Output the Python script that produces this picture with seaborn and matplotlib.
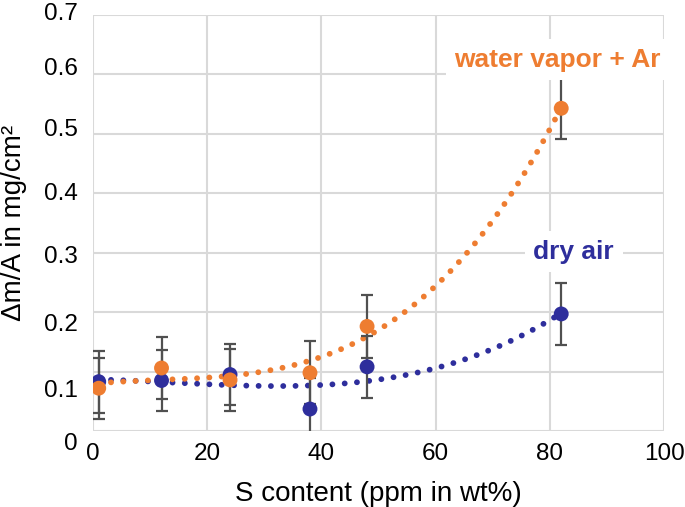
import numpy as np
import pandas as pd
import seaborn as sns
import matplotlib
matplotlib.use("Agg")
import matplotlib.pyplot as plt
from matplotlib.transforms import ScaledTranslation

# ---- data ----
s_content = [1, 12, 24, 38, 48, 82]
dry_air = [0.083, 0.085, 0.095, 0.037, 0.108, 0.197]
dry_air_err = [0.052, 0.052, 0.052, 0.052, 0.052, 0.052]
water_vapor = [0.072, 0.106, 0.086, 0.098, 0.176, 0.543]
water_vapor_err = [0.051, 0.052, 0.052, 0.053, 0.053, 0.051]
x_ticks = [0, 20, 40, 60, 80, 100]
y_ticks = [0, 0.1, 0.2, 0.3, 0.4, 0.5, 0.6, 0.7]
y_tick_labels = ["0", "0.1", "0.2", "0.3", "0.4", "0.5", "0.6", "0.7"]
series_names = ["dry air", "water vapor + Ar"]

BLUE = "#2E2E9C"
ORANGE = "#EE7D31"
GREY = "#D9D9D9"
ERR = "#505050"

sns.set_theme(style="white")
plt.rcParams["font.family"] = ["Liberation Sans", "DejaVu Sans"]

fig = plt.figure(figsize=(6.85, 5.07), dpi=100)
ax = fig.add_axes([93 / 685, 76 / 507, (664 - 93) / 685, (431 - 15) / 507])

df = pd.DataFrame({
    "S": s_content * 2,
    "val": dry_air + water_vapor,
    "err": dry_air_err + water_vapor_err,
    "series": [series_names[0]] * 6 + [series_names[1]] * 6,
})
palette = {series_names[0]: BLUE, series_names[1]: ORANGE}

# polynomial trend lines (like a spreadsheet trendline), fit from the data
trend_frames = []
for name in series_names:
    sub = df[df.series == name]
    coef = np.polyfit(sub.S, sub.val, 3)
    xs = np.linspace(min(s_content), max(s_content), 200)
    trend_frames.append(pd.DataFrame({"S": xs, "val": np.polyval(coef, xs), "series": name}))
trend = pd.concat(trend_frames)

sns.lineplot(data=trend, x="S", y="val", hue="series", palette=palette, ax=ax,
             legend=False, linewidth=4.2, zorder=3)
for ln in ax.get_lines():
    ln.set_linestyle((0, (0.01, 2.1)))
    ln.set_dash_capstyle("round")

# error bars
for name in series_names:
    sub = df[df.series == name]
    ax.errorbar(sub.S, sub.val, yerr=sub.err, fmt="none", ecolor=ERR,
                elinewidth=1.6, capsize=4, capthick=1.6, zorder=4)

sns.scatterplot(data=df, x="S", y="val", hue="series", palette=palette, ax=ax,
                legend=False, s=115, edgecolor="none", zorder=5)

ax.set_xlim(0, 100)
ax.set_ylim(0, 0.7)
ax.set_xticks(x_ticks)
ax.set_yticks(y_ticks)
ax.set_yticklabels(y_tick_labels)
ax.grid(True, color=GREY, linewidth=1.5)
ax.set_axisbelow(True)
for sp in ax.spines.values():
    sp.set_visible(False)
ax.tick_params(axis="both", length=0, labelsize=17.5, colors="black")
ax.tick_params(axis="x", pad=9)
ax.tick_params(axis="y", pad=11)

# the reference's y tick labels sit slightly off their grid lines
y_off_px = [11, 17, 10, 2, -2, -6, -8, -3]
for lab, off in zip(ax.get_yticklabels(), y_off_px):
    lab.set_transform(lab.get_transform() + ScaledTranslation(0, -off / 100, fig.dpi_scale_trans))

ax.set_xlabel("S content (ppm in wt%)", fontsize=20, labelpad=11, color="black")
ax.set_ylabel("Δm/A in mg/cm²", fontsize=20, labelpad=12, color="black")

ax.text(81.4, 0.625, series_names[1], color=ORANGE, fontsize=19, fontweight="bold",
        ha="center", va="center",
        bbox=dict(facecolor="white", edgecolor="none", pad=6), zorder=6)
ax.text(84.2, 0.302, series_names[0], color=BLUE, fontsize=19, fontweight="bold",
        ha="center", va="center",
        bbox=dict(facecolor="white", edgecolor="none", pad=6), zorder=6)

fig.savefig("out.png", dpi=100)
